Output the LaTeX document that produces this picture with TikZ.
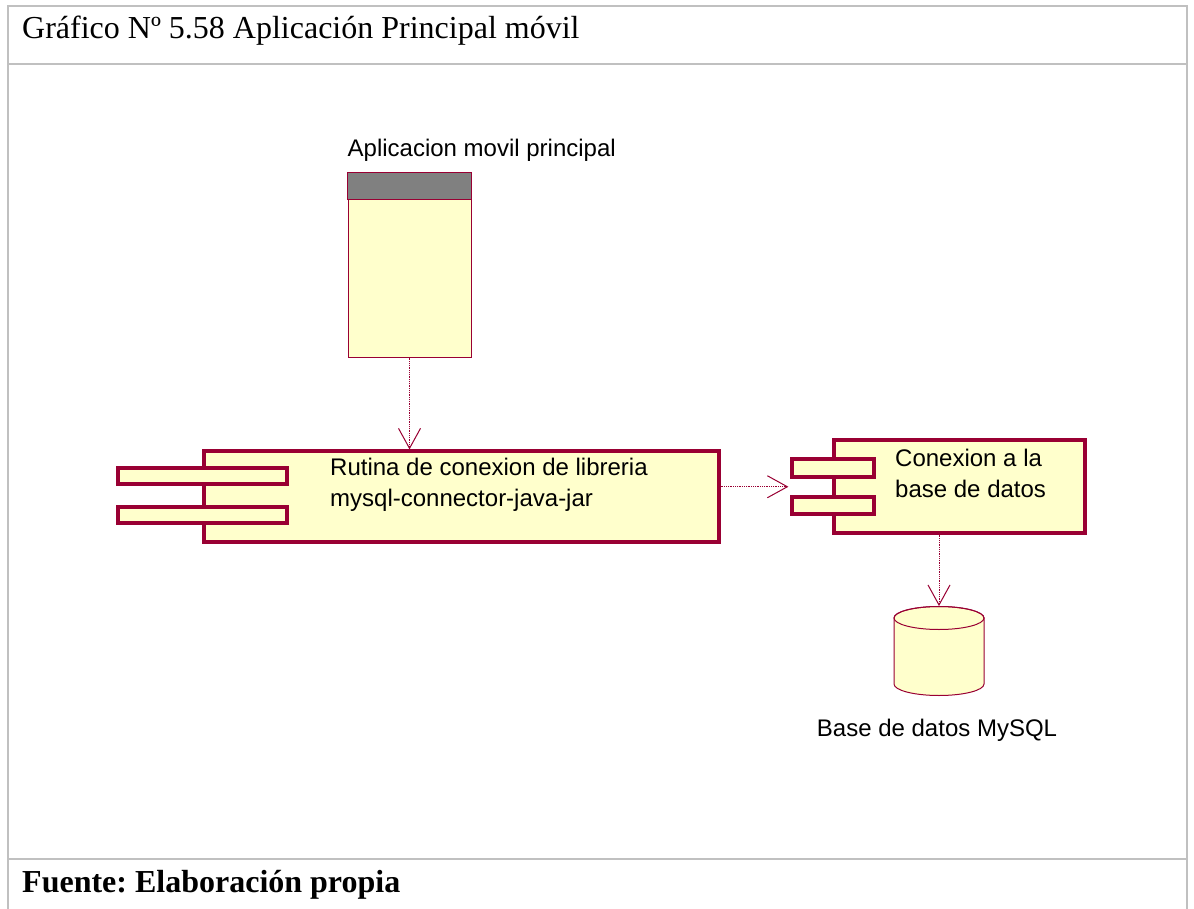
\documentclass[tikz,border=0pt]{standalone}
\usepackage{fontspec}
\setmainfont{Liberation Serif}
\newfontfamily\umlfont{Liberation Sans}
\usepackage{tikz}
\usetikzlibrary{arrows.meta,calc}
\frenchspacing
\definecolor{FrameGray}{HTML}{C0C0C0}
\definecolor{UmlLine}{HTML}{990033}
\definecolor{UmlFill}{HTML}{FFFFCC}
\definecolor{UmlHead}{HTML}{808080}
\newcommand{\titlefont}{\fontsize{32}{38}\selectfont}
\newcommand{\umltext}{\umlfont\fontsize{24}{31}\selectfont}
\tikzset{
  comp/.style={draw=UmlLine, fill=UmlFill, line width=3.2pt, inner sep=0pt},
  port/.style={comp, minimum width=169pt, minimum height=16pt},
  dep/.style={draw=UmlLine, densely dotted, line width=0.8pt,
    -{Straight Barb[length=20pt,width=22pt,line width=1pt]}}
}

\begin{document}
\begin{tikzpicture}[x=1pt,y=-1pt]
  \useasboundingbox (0,0) rectangle (1194,909);
  \fill[white] (0,0) rectangle (1194,909);

  %% table frame
  \draw[FrameGray, line width=2pt] (8,909) -- (8,6) -- (1187,6) -- (1187,909);
  \draw[FrameGray, line width=2pt] (8,64) -- (1187,64);
  \draw[FrameGray, line width=2pt] (8,859) -- (1187,859);
  \node[font=\titlefont, anchor=west, inner sep=0pt] (title) at (22,31)
    {Gráfico Nº 5.58 Aplicación Principal móvil};
  \node[font=\titlefont\bfseries, anchor=west, inner sep=0pt] (source) at (22,885)
    {Fuente: Elaboración propia};

  %% mobile app
  \node[draw=UmlLine, fill=UmlFill, line width=1pt, minimum width=123pt,
    minimum height=184pt, inner sep=0pt] (app) at (409.5,265) {};
  \filldraw[fill=UmlHead, draw=UmlLine, line width=1pt]
    (app.north west) rectangle ($(app.north east)+(0,27)$);
  \node[font=\umltext, anchor=base west, inner sep=0pt] (applbl)
    at ($(app.north west)+(0,-16)$) {Aplicacion movil principal};

  %% connector library routine
  \node[comp, minimum width=515pt, minimum height=91pt] (rutina) at (461.5,496.5) {};
  \node[port] (rport1) at (202.5,476) {};
  \node[port] (rport2) at (202.5,515) {};
  \node[font=\umltext, anchor=north west, align=left, inner sep=0pt] (rtext)
    at (330,458) {Rutina de conexion de libreria\\mysql-connector-java-jar};

  %% database connection
  \node[comp, minimum width=251pt, minimum height=93pt] (conn) at (959.5,486.5) {};
  \node[port, minimum width=82pt, minimum height=18pt] (cport1) at (833,468) {};
  \node[port, minimum width=82pt, minimum height=17pt] (cport2) at (833,505.5) {};
  \node[font=\umltext, anchor=north west, align=left, inner sep=0pt] (ctext)
    at (895,449) {Conexion a la\\base de datos};
  \coordinate (cin) at ($(cport1.west)!0.5!(cport2.west)+(-2,0)$);

  %% MySQL database
  \coordinate (db) at (939,606);
  \filldraw[fill=UmlFill, draw=UmlLine, line width=1pt]
    (894,618) -- (894,684) arc[start angle=180, end angle=0, x radius=45, y radius=11.5]
    -- (984,618) arc[start angle=0, end angle=-180, x radius=45, y radius=11.5] -- cycle;
  \draw[UmlLine, line width=1pt] (939,618) ellipse[x radius=45, y radius=11.5];
  \node[font=\umltext, inner sep=0pt] (dblbl) at (937,730) {Base de datos MySQL};

  %% dependencies
  \draw[dep] (app.south) -- (app.south |- rutina.north);
  \draw[dep] (rutina.east |- cin) -- (cin);
  \draw[dep] (db |- conn.south) -- (db);
\end{tikzpicture}
\end{document}
